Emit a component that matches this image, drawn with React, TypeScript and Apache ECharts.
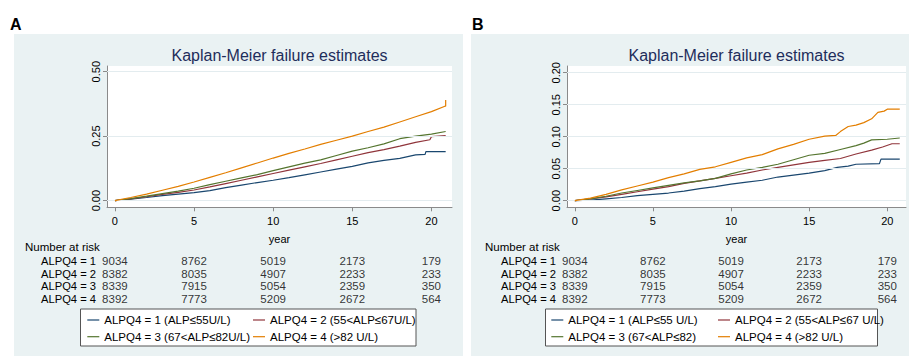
import React, { useEffect, useRef } from "react";
import * as echarts from "echarts";

const FONT = "'Liberation Sans', Arial, Helvetica, sans-serif";

// ---- data ----
const xTicks = [0, 5, 10, 15, 20];
const yTicksA = [0, 0.25, 0.5];
const yTicksB = [0, 0.05, 0.1, 0.15, 0.2];

const riskTimes = [0, 5, 10, 15, 20];
const riskRowLabels = ["ALPQ4 = 1", "ALPQ4 = 2", "ALPQ4 = 3", "ALPQ4 = 4"];
const riskQ1 = [9034, 8762, 5019, 2173, 179];
const riskQ2 = [8382, 8035, 4907, 2233, 233];
const riskQ3 = [8339, 7915, 5054, 2359, 350];
const riskQ4 = [8392, 7773, 5209, 2672, 564];

const namesA = [
  "ALPQ4 = 1 (ALP≤55U/L)",
  "ALPQ4 = 2 (55<ALP≤67U/L)",
  "ALPQ4 = 3 (67<ALP≤82U/L)",
  "ALPQ4 = 4 (>82 U/L)",
];
const namesB = [
  "ALPQ4 = 1 (ALP≤55 U/L)",
  "ALPQ4 = 2 (55<ALP≤67 U/L)",
  "ALPQ4 = 3 (67<ALP≤82)",
  "ALPQ4 = 4 (>82 U/L)",
];
const colors = ["#1a476f", "#90353b", "#55752f", "#e37e00"];

// Panel A
const a1 = [[0, 0], [1, 0.006], [2, 0.012], [3, 0.019], [4, 0.025], [5, 0.031], [6, 0.039], [7, 0.05], [8, 0.06], [9, 0.07], [10, 0.079], [11, 0.089], [12, 0.1], [13, 0.111], [14, 0.122], [15, 0.133], [16, 0.146], [17, 0.156], [18, 0.164], [19, 0.177], [19.6, 0.179], [19.65, 0.19], [20.9, 0.19]];
const a2 = [[0, 0], [1, 0.007], [2, 0.015], [3, 0.024], [4, 0.032], [5, 0.041], [6, 0.053], [7, 0.066], [8, 0.079], [9, 0.092], [10, 0.105], [11, 0.118], [12, 0.131], [13, 0.144], [14, 0.158], [15, 0.172], [16, 0.186], [17, 0.198], [18, 0.211], [19, 0.226], [19.9, 0.236], [20, 0.248], [20.9, 0.252]];
const a3 = [[0, 0], [1, 0.008], [2, 0.017], [3, 0.027], [4, 0.037], [5, 0.048], [6, 0.062], [7, 0.075], [8, 0.088], [9, 0.101], [10, 0.116], [11, 0.131], [12, 0.145], [13, 0.158], [14, 0.175], [15, 0.192], [16, 0.205], [17, 0.22], [18, 0.24], [19, 0.25], [20, 0.258], [20.9, 0.268]];
const a4 = [[0, 0], [1, 0.012], [2, 0.025], [3, 0.04], [4, 0.055], [5, 0.072], [6, 0.09], [7, 0.108], [8, 0.127], [9, 0.146], [10, 0.165], [11, 0.183], [12, 0.2], [13, 0.218], [14, 0.234], [15, 0.25], [16, 0.268], [17, 0.285], [18, 0.305], [19, 0.325], [20, 0.345], [20.85, 0.366], [20.9, 0.366], [20.9, 0.39]];

// Panel B
const b1 = [[0, 0], [1, 0.001], [2, 0.003], [3, 0.005], [4, 0.008], [5, 0.01], [6, 0.012], [7, 0.015], [8, 0.019], [9, 0.022], [10, 0.026], [11, 0.029], [12, 0.032], [13, 0.037], [14, 0.04], [15, 0.043], [16, 0.047], [16.8, 0.052], [17.5, 0.054], [18, 0.057], [19.5, 0.058], [19.6, 0.065], [20.8, 0.065]];
const b2 = [[0, 0], [1, 0.003], [2, 0.006], [3, 0.01], [4, 0.014], [5, 0.018], [6, 0.022], [7, 0.027], [8, 0.031], [9, 0.035], [10, 0.039], [11, 0.043], [12, 0.048], [13, 0.052], [14, 0.056], [15, 0.06], [16, 0.063], [17, 0.066], [18, 0.073], [19, 0.079], [19.7, 0.084], [20.3, 0.089], [20.8, 0.089]];
const b3 = [[0, 0], [1, 0.003], [2, 0.007], [3, 0.012], [4, 0.016], [5, 0.02], [6, 0.024], [7, 0.028], [8, 0.031], [9, 0.035], [10, 0.042], [11, 0.048], [12, 0.052], [13, 0.057], [14, 0.064], [15, 0.071], [16, 0.074], [17, 0.08], [18, 0.086], [18.5, 0.09], [19, 0.095], [20, 0.096], [20.8, 0.098]];
const b4 = [[0, 0], [1, 0.004], [2, 0.01], [3, 0.017], [4, 0.023], [5, 0.029], [6, 0.036], [7, 0.042], [8, 0.049], [9, 0.053], [10, 0.06], [11, 0.067], [12, 0.072], [13, 0.081], [14, 0.088], [15, 0.096], [16, 0.101], [16.7, 0.102], [17, 0.108], [17.5, 0.116], [18, 0.118], [18.5, 0.122], [19, 0.128], [19.4, 0.138], [19.8, 0.14], [20, 0.143], [20.8, 0.143]];

// ---- layout ----
const panels = [
  {
    letter: "A", letterX: 10, bgX: 14, bgW: 449, gridLeft: 107, gridW: 345,
    xMin: -0.5, xMax: 21.3, yMin: -0.026, yMax: 0.522, yTicks: yTicksA,
    series: [a1, a2, a3, a4], names: namesA, nrX: 25,
    boxX: 80.5, boxW: 335.5, leg1X: 87.3, leg2X: 253,
  },
  {
    letter: "B", letterX: 472, bgX: 471, bgW: 438, gridLeft: 567, gridW: 339,
    xMin: -0.5, xMax: 21.2, yMin: -0.0103, yMax: 0.2105, yTicks: yTicksB,
    series: [b1, b2, b3, b4], names: namesB, nrX: 485,
    boxX: 545.5, boxW: 332, leg1X: 551.3, leg2X: 718,
  },
];

const PLOT_TOP = 66;
const PLOT_H = 141.3;
const RISK_TOP = 254.7;
const RISK_H = 50.4;

export default function App() {
  const ref = useRef<HTMLDivElement>(null);

  useEffect(() => {
    if (!ref.current) return;
    const chart = echarts.init(ref.current, undefined, { renderer: "svg" });
    const riskRows = [riskQ1, riskQ2, riskQ3, riskQ4];

    const grid: any[] = [];
    const xAxis: any[] = [];
    const yAxis: any[] = [];
    const series: any[] = [];
    const legend: any[] = [];
    const graphic: any[] = [];

    panels.forEach((p, pi) => {
      const gPlot = pi * 2;
      const gRisk = pi * 2 + 1;
      grid.push({
        left: p.gridLeft, top: PLOT_TOP, width: p.gridW, height: PLOT_H,
        show: true, backgroundColor: "#ffffff", borderWidth: 0,
      });
      grid.push({ left: p.gridLeft, top: RISK_TOP, width: p.gridW, height: RISK_H });

      xAxis.push({
        type: "value", gridIndex: gPlot, min: p.xMin, max: p.xMax,
        axisLine: { show: true, onZero: false, lineStyle: { color: "#8a8a8a", width: 1 } },
        axisTick: { show: true, length: 4, customValues: xTicks, lineStyle: { color: "#8a8a8a" } },
        axisLabel: { customValues: xTicks, margin: 8, fontSize: 11, color: "#000", fontFamily: FONT },
        splitLine: { show: false },
        name: "year", nameLocation: "middle", nameGap: 26,
        nameTextStyle: { fontSize: 11, color: "#000", fontFamily: FONT },
      });
      xAxis.push({ type: "value", gridIndex: gRisk, min: p.xMin, max: p.xMax, show: false });

      yAxis.push({
        type: "value", gridIndex: gPlot, min: p.yMin, max: p.yMax,
        axisLine: { show: true, onZero: false, lineStyle: { color: "#8a8a8a", width: 1 } },
        axisTick: { show: true, length: 4, customValues: p.yTicks, lineStyle: { color: "#8a8a8a" } },
        axisLabel: {
          customValues: p.yTicks, rotate: 90, margin: 6, fontSize: 11, color: "#000", fontFamily: FONT,
          formatter: (v: number) => v.toFixed(2),
        },
        splitLine: { show: false },
      });
      yAxis.push({
        type: "category", gridIndex: gRisk, data: riskRowLabels, inverse: true,
        axisLine: { show: false }, axisTick: { show: false }, splitLine: { show: false },
        axisLabel: { interval: 0, align: "left", margin: 66, fontSize: 11.2, color: "#000", fontFamily: FONT },
      });

      p.series.forEach((d, gi) => {
        const s: any = {
          type: "line", name: p.names[gi], xAxisIndex: gPlot, yAxisIndex: gPlot,
          data: d, symbol: "none", showSymbol: false, z: gi === 0 ? 1 : 2 + gi,
          lineStyle: { width: 1.2, color: colors[gi] }, itemStyle: { color: colors[gi] },
          emphasis: { disabled: true },
        };
        if (gi === 0) {
          s.markLine = {
            silent: true, symbol: ["none", "none"], label: { show: false },
            lineStyle: { color: "#e3ecef", width: 1, type: "solid" },
            emphasis: { disabled: true },
            data: p.yTicks.map((v) => ({ yAxis: v })),
          };
        }
        series.push(s);
      });

      const riskData: any[] = [];
      riskRows.forEach((row, gi) => {
        row.forEach((v, ti) => riskData.push([riskTimes[ti], gi, v]));
      });
      series.push({
        type: "scatter", xAxisIndex: gRisk, yAxisIndex: gRisk, data: riskData,
        symbolSize: 1, itemStyle: { color: "rgba(0,0,0,0)" }, silent: true,
        label: {
          show: true, position: "inside", fontSize: 11.5, color: "#000", fontFamily: FONT,
          formatter: (q: any) => String(q.value[2]),
        },
      });

      const legBase = {
        orient: "vertical", top: 313, icon: "rect", itemWidth: 12, itemHeight: 1.2, itemGap: 2.7, padding: 0,
        selectedMode: false,
        textStyle: { fontSize: 11.5, color: "#000", fontFamily: FONT, lineHeight: 14 },
      };
      legend.push({ ...legBase, left: p.leg1X, data: [p.names[0], p.names[2]] });
      legend.push({ ...legBase, left: p.leg2X, data: [p.names[1], p.names[3]] });

      graphic.push({
        type: "rect", z: -10, silent: true,
        shape: { x: p.bgX, y: 34, width: p.bgW, height: 322 },
        style: { fill: "#eaf2f3" },
      });
      graphic.push({
        type: "text", z: 10, x: p.letterX, y: 24,
        style: { text: p.letter, font: `bold 16px ${FONT}`, fill: "#000", textAlign: "left", textVerticalAlign: "middle" },
      });
      graphic.push({
        type: "text", z: 10, x: p.gridLeft + p.gridW / 2, y: 55,
        style: { text: "Kaplan-Meier failure estimates", font: `16px ${FONT}`, fill: "#1e2d5b", textAlign: "center", textVerticalAlign: "middle" },
      });
      graphic.push({
        type: "text", z: 10, x: p.nrX, y: 247,
        style: { text: "Number at risk", font: `11.5px ${FONT}`, fill: "#000", textAlign: "left", textVerticalAlign: "middle" },
      });
      graphic.push({
        type: "rect", z: 1, silent: true,
        shape: { x: p.boxX, y: 309, width: p.boxW, height: 37 },
        style: { fill: "#ffffff", stroke: "#555555", lineWidth: 1 },
      });
    });

    chart.setOption({
      animation: false,
      backgroundColor: "#ffffff",
      grid, xAxis, yAxis, series, legend, graphic,
    });

    return () => chart.dispose();
  }, []);

  return (
    <div
      ref={ref}
      style={{ position: "absolute", left: 0, top: 0, width: 909, height: 356 }}
    />
  );
}
